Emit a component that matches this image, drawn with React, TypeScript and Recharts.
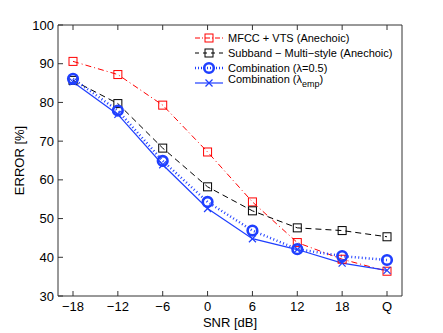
import { LineChart, Line, XAxis, YAxis, Legend } from 'recharts';

// SNR conditions (Q = clean)
const snrLabels = ['−18', '−12', '−6', '0', '6', '12', '18', 'Q'];

// error rates [%]
const mfccVts = [90.6, 87.2, 79.3, 67.2, 54.3, 43.8, 39.5, 36.4];
const subbandMulti = [85.7, 79.7, 68.2, 58.2, 52.0, 47.6, 46.9, 45.3];
const comb05 = [86.1, 77.9, 64.9, 54.3, 46.9, 42.1, 40.3, 39.3];
const combEmp = [85.3, 76.9, 63.9, 52.6, 44.8, 42.0, 38.5, 36.6];

const yTicks = [30, 40, 50, 60, 70, 80, 90, 100];

const data = snrLabels.map((snr, i) => ({
  snr,
  mfcc: mfccVts[i],
  subband: subbandMulti[i],
  comb05: comb05[i],
  combEmp: combEmp[i],
}));

const FONT = '"Liberation Sans", Arial, Helvetica, sans-serif';
const RED = '#ff0000';
const BLUE = '#1f3fff';
const AXIS = '#333';
const TICK_LEN = 5;

const SquareDot = ({ cx, cy, color, size = 8 }: any) => {
  if (cx == null || cy == null) return null;
  return (
    <rect
      x={cx - size / 2}
      y={cy - size / 2}
      width={size}
      height={size}
      fill="none"
      stroke={color}
      strokeWidth={1}
    />
  );
};

const CircleDot = ({ cx, cy }: any) => {
  if (cx == null || cy == null) return null;
  return <circle cx={cx} cy={cy} r={4.8} fill="none" stroke={BLUE} strokeWidth={2.6} />;
};

const CrossDot = ({ cx, cy }: any) => {
  if (cx == null || cy == null) return null;
  const s = 3.5;
  return (
    <g stroke={BLUE} strokeWidth={1.2}>
      <line x1={cx - s} y1={cy - s} x2={cx + s} y2={cy + s} />
      <line x1={cx - s} y1={cy + s} x2={cx + s} y2={cy - s} />
    </g>
  );
};

// ticks drawn inward, matlab style
const BottomTick = ({ x, y, payload }: any) => (
  <g>
    <line x1={x} y1={y} x2={x} y2={y - TICK_LEN} stroke={AXIS} />
    <text x={x} y={y + 15} textAnchor="middle" fontSize={13} fontFamily={FONT} fill="#000">
      {payload.value}
    </text>
  </g>
);

const TopTick = ({ x, y }: any) => (
  <line x1={x} y1={y} x2={x} y2={y + TICK_LEN} stroke={AXIS} />
);

const LeftTick = ({ x, y, payload }: any) => (
  <g>
    <line x1={x} y1={y} x2={x + TICK_LEN} y2={y} stroke={AXIS} />
    <text x={x - 4} y={y + 4.5} textAnchor="end" fontSize={13} fontFamily={FONT} fill="#000">
      {payload.value}
    </text>
  </g>
);

const RightTick = ({ x, y }: any) => (
  <line x1={x} y1={y} x2={x - TICK_LEN} y2={y} stroke={AXIS} />
);

const LegendBox = () => {
  const rows = [38, 53, 68, 83].map((v) => v - 24);
  const x1 = 5;
  const x2 = 33;
  const mx = 19;
  const tx = 38;
  const txtProps = { fontSize: 11, fontFamily: FONT, fill: '#000' };
  return (
    <svg width={215} height={72} style={{ overflow: 'visible' }}>
      <line x1={x1} y1={rows[0]} x2={x2} y2={rows[0]} stroke={RED} strokeDasharray="5 2 1 2" />
      <SquareDot cx={mx} cy={rows[0]} color={RED} />
      <text x={tx} y={rows[0] + 4} {...txtProps}>MFCC + VTS (Anechoic)</text>

      <line x1={x1} y1={rows[1]} x2={x2} y2={rows[1]} stroke="#000" strokeDasharray="4 4" />
      <SquareDot cx={mx} cy={rows[1]} color="#000" />
      <text x={tx} y={rows[1] + 4} {...txtProps}>Subband − Multi−style (Anechoic)</text>

      <line x1={x1} y1={rows[2]} x2={x2} y2={rows[2]} stroke={BLUE} strokeWidth={2.5} strokeDasharray="1 2" />
      <CircleDot cx={mx} cy={rows[2]} />
      <text x={tx} y={rows[2] + 4} {...txtProps}>Combination (λ=0.5)</text>

      <line x1={x1} y1={rows[3]} x2={x2} y2={rows[3]} stroke={BLUE} strokeWidth={1.2} />
      <CrossDot cx={mx} cy={rows[3]} />
      <text x={tx} y={rows[3]} {...txtProps}>
        Combination (λ
        <tspan fontSize={9} dy={4}>emp</tspan>
        <tspan dy={-4}>)</tspan>
      </text>
    </svg>
  );
};

export default function App() {
  return (
    <div style={{ position: 'absolute', left: 0, top: 0, background: '#fff' }}>
      <LineChart
        width={443}
        height={333}
        data={data}
        margin={{ top: 24, right: 40, left: 0, bottom: 0 }}
      >
        <XAxis
          dataKey="snr"
          scale="point"
          padding={{ left: 15, right: 15 }}
          height={37}
          stroke={AXIS}
          tickLine={false}
          tickSize={0}
          tickMargin={0}
          tick={<BottomTick />}
          interval={0}
          label={{
            value: 'SNR [dB]',
            position: 'insideBottom',
            offset: 6,
            style: { fontSize: 13, fontFamily: FONT, fill: '#000' },
          }}
        />
        <XAxis
          xAxisId="top"
          orientation="top"
          dataKey="snr"
          scale="point"
          padding={{ left: 15, right: 15 }}
          height={1}
          stroke={AXIS}
          tickLine={false}
          tickSize={0}
          tickMargin={0}
          tick={<TopTick />}
          interval={0}
        />
        <YAxis
          domain={[30, 100]}
          ticks={yTicks}
          width={58}
          stroke={AXIS}
          tickLine={false}
          tickSize={0}
          tickMargin={0}
          tick={<LeftTick />}
          interval={0}
          allowDataOverflow
          label={{
            value: 'ERROR [%]',
            angle: -90,
            position: 'insideLeft',
            offset: 19,
            style: { fontSize: 13, fontFamily: FONT, fill: '#000', textAnchor: 'middle' },
          }}
        />
        <YAxis
          yAxisId="right"
          orientation="right"
          domain={[30, 100]}
          ticks={yTicks}
          width={1}
          stroke={AXIS}
          tickLine={false}
          tickSize={0}
          tickMargin={0}
          tick={<RightTick />}
          interval={0}
        />
        <Legend
          layout="horizontal"
          verticalAlign="middle"
          content={<LegendBox />}
          wrapperStyle={{ top: 24, left: 190, width: 215, height: 72 }}
        />
        <Line
          dataKey="mfcc"
          name="MFCC + VTS (Anechoic)"
          stroke={RED}
          strokeWidth={1}
          strokeDasharray="6 3 1 3"
          dot={(p: any) => <SquareDot key={p.index} {...p} color={RED} />}
          activeDot={false}
          isAnimationActive={false}
        />
        <Line
          dataKey="subband"
          name="Subband − Multi−style (Anechoic)"
          stroke="#000"
          strokeWidth={1}
          strokeDasharray="6 4"
          dot={(p: any) => <SquareDot key={p.index} {...p} color="#000" />}
          activeDot={false}
          isAnimationActive={false}
        />
        <Line
          dataKey="comb05"
          name="Combination (λ=0.5)"
          stroke={BLUE}
          strokeWidth={2.5}
          strokeDasharray="1 2.5"
          dot={(p: any) => <CircleDot key={p.index} {...p} />}
          activeDot={false}
          isAnimationActive={false}
        />
        <Line
          dataKey="combEmp"
          name="Combination (λemp)"
          stroke={BLUE}
          strokeWidth={1.2}
          dot={(p: any) => <CrossDot key={p.index} {...p} />}
          activeDot={false}
          isAnimationActive={false}
        />
      </LineChart>
    </div>
  );
}
